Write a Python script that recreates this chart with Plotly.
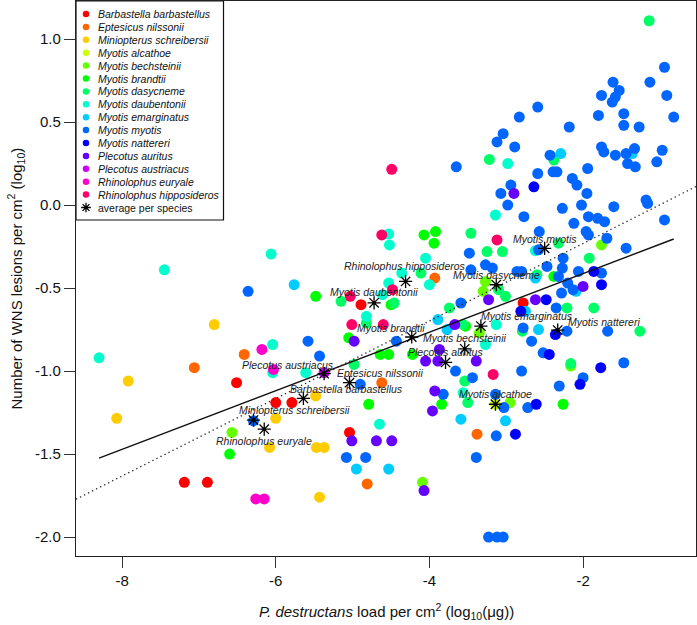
import plotly.graph_objects as go

# ---------------- data ----------------
SPECIES = [
    "Barbastella barbastellus", "Eptesicus nilssonii", "Miniopterus schreibersii",
    "Myotis alcathoe", "Myotis bechsteinii", "Myotis brandtii", "Myotis dasycneme",
    "Myotis daubentonii", "Myotis emarginatus", "Myotis myotis", "Myotis nattereri",
    "Plecotus auritus", "Plecotus austriacus", "Rhinolophus euryale",
    "Rhinolophus hipposideros",
]
COLORS = ["#FF0000", "#FF6600", "#FFCC00", "#CCFF00", "#66FF00", "#00FF00", "#00FF66",
          "#00FFCC", "#00CCFF", "#0066FF", "#0000FF", "#6600FF", "#CC00FF", "#FF00CC",
          "#FF0066"]

BARB_X = [-4.89, -6.51, -6.00, -5.79, -5.04, -7.19, -6.89, -2.78]
BARB_Y = [-0.60, -1.07, -1.19, -1.19, -1.37, -1.67, -1.67, -0.59]

EPT_X = [-3.93, -6.41, -7.06, -4.62, -4.81, -3.38]
EPT_Y = [-0.44, -0.90, -0.98, -1.07, -1.68, -1.38]

MIN_X = [-6.80, -5.48, -5.47, -5.37, -5.43, -7.92, -6.00, -8.07, -6.08]
MIN_Y = [-0.72, -1.15, -1.46, -1.46, -1.76, -1.06, -1.285, -1.285, -1.46]

ALC_X = [-3.14]
ALC_Y = [-1.20]

BECH_X = [-1.76, -3.27, -3.30, -3.35, -2.95, -6.57, -4.09, -2.16]
BECH_Y = [-0.24, -0.46, -0.52, -0.77, -1.19, -1.37, -1.67, -0.97]

BRA_X = [-4.07, -3.92, -3.94, -2.38, -5.48, -4.50, -3.53, -5.05, -4.64, -4.53, -4.22,
         -3.84, -4.79, -2.26, -6.60]
BRA_Y = [-0.18, -0.16, -0.23, -0.43, -0.55, -0.60, -0.73, -0.80, -0.90, -0.90, -0.90,
         -1.20, -1.20, -1.20, -1.50]

DAS_X = [-1.14, -2.38, -3.22, -3.46, -2.32, -3.25, -3.05, -1.92, -4.11, -3.10, -3.01,
         -2.60, -2.79, -3.54, -3.74, -3.56, -4.46, -5.15, -4.82, -4.98, -3.50, -2.21,
         -1.86, -1.26, -2.16]
DAS_Y = [1.11, 0.27, 0.275, -0.17, -0.23, -0.28, -0.28, -0.32, -0.41, -0.51, -0.55,
         -0.42, -0.76, -1.06, -0.62, -0.72, -0.59, -0.58, -0.71, -0.96, -1.19, -0.62,
         -0.62, -0.76, -0.955]

DAU_X = [-2.98, -3.14, -2.62, -4.05, -4.36, -4.53, -4.52, -6.06, -4.00, -4.53, -4.61,
         -3.13, -3.27, -4.82, -6.04, -5.61, -3.56, -4.65, -7.45, -8.30, -6.04]
DAU_Y = [0.25, -0.06, -0.275, -0.32, -0.41, -0.175, -0.24, -0.295, -0.48, -0.47, -0.54,
         -0.72, -0.84, -0.67, -0.84, -1.01, -1.13, -1.32, -0.39, -0.92, -1.01]

EMA_X = [-1.36, -2.29, -2.62, -2.09, -2.75, -2.58, -3.89, -3.77, -5.76, -3.59, -3.01,
         -4.95, -4.53]
EMA_Y = [0.31, 0.31, -0.44, -0.52, -0.64, -0.75, -0.69, -0.75, -0.48, -1.29, -1.30,
         -1.59, -1.59]

MYO_X = [-0.94, -1.61, -1.13, -1.53, -1.58, -1.76, -1.62, -0.91, -0.82, -2.59, -2.83,
         -1.80, -1.47, -1.47, -1.27, -2.18, -3.04, -3.12, -2.89, -1.76, -1.73, -1.58,
         -1.44, -1.33, -0.97, -1.04, -1.42, -1.32, -2.43, -3.65, -1.94, -2.39, -2.34,
         -2.59, -2.14, -2.08, -2.94, -3.07, -1.95, -2.98, -2.02, -2.27, -1.60, -1.18,
         -1.16, -2.77, -1.93, -1.81, -1.72, -2.12, -0.94, -1.96, -1.93, -1.69, -2.57,
         -1.44, -3.48, -2.58, -2.26, -3.27, -3.18, -2.47, -2.27, -3.46, -2.86, -2.80,
         -2.06, -1.76, -2.32,
         -2.20, -2.13, -2.28, -2.35, -2.21, -1.68, -1.47, -2.00,
         -2.78, -2.67, -2.52, -2.80, -3.44, -3.59, -3.66, -4.43, -5.58, -6.36, -5.43,
         -4.90, -3.82,
         -3.13, -3.39, -3.03, -2.72, -2.31, -5.08, -4.83, -3.23, -3.12, -3.04, -3.14, -6.29]
MYO_Y = [0.83, 0.74, 0.74, 0.69, 0.65, 0.66, 0.62, 0.66, 0.53, 0.59, 0.53,
         0.54, 0.55, 0.48, 0.47, 0.47, 0.43, 0.38, 0.35, 0.35, 0.32, 0.30,
         0.31, 0.34, 0.33, 0.26, 0.25, 0.23, 0.30, 0.23, 0.22, 0.20, 0.20,
         0.19, 0.16, 0.12, 0.12, 0.07, 0.07, 0.00, 0.00, -0.02, -0.01, 0.03,
         0.01, -0.07, -0.07, -0.08, -0.10, -0.11, -0.09, -0.16, -0.18, -0.20, -0.16,
         -0.26, -0.29, -0.27, -0.32, -0.36, -0.38, -0.37, -0.38, -0.39, -0.40, -0.40,
         -0.40, -0.41, -0.43,
         -0.47, -0.51, -0.53, -0.62, -0.76, -0.76, -0.95, -1.04,
         -0.74, -0.82, -0.89, -1.00, -1.04, -0.59, -1.00, -0.82, -0.82, -0.52, -0.91,
         -1.08, -1.14,
         -1.39, -1.52, -1.22, -1.22, -1.09, -1.52, -1.52, -2.00, -2.00, -2.00, -1.14, -1.30]

NAT_X = [-2.64, -1.86, -1.76, -2.48, -2.81, -2.36, -2.44, -1.77, -2.04, -2.61, -2.88]
NAT_Y = [0.11, -0.40, -0.48, -0.57, -0.64, -0.78, -0.90, -0.98, -1.08, -1.20, -1.38]

AUR_X = [-2.90, -3.23, -2.62, -2.00, -3.39, -3.67, -4.98, -4.05, -3.89, -3.87, -3.93,
         -3.96, -5.01, -4.69, -4.49, -4.07]
AUR_Y = [0.07, -0.57, -0.57, -0.49, -0.94, -0.72, -0.82, -0.94, -0.94, -0.87, -1.12,
         -1.24, -1.42, -1.42, -1.42, -1.72]

AUS_X = [-5.37]
AUS_Y = [-1.01]

EUR_X = [-6.18, -6.03, -6.26, -6.15]
EUR_Y = [-0.87, -0.99, -1.77, -1.77]

HIP_X = [-4.62, -3.12, -4.48, -5.03, -5.01, -4.60, -3.17, -4.49]
HIP_Y = [-0.18, -0.21, -0.51, -0.55, -0.72, -0.72, -1.02, 0.215]

# species averages (same order as SPECIES)
AVG_X = [-5.64, -5.04, -6.29, -3.14, -3.54, -4.23, -3.13, -4.72, -3.33, -2.50, -2.33,
         -3.79, -5.37, -6.15, -4.31]
AVG_Y = [-1.165, -1.07, -1.295, -1.20, -0.866, -0.795, -0.48, -0.589, -0.729, -0.261,
         -0.753, -0.948, -1.016, -1.35, -0.46]

# regression lines: (intercept, slope)
FIT_SOLID = (-0.0598, 0.1764)
FIT_SOLID_XSPAN = (-8.30, -0.82)
FIT_DOTTED = (0.235, 0.2334)

X_TICKS = [-8, -6, -4, -2]
Y_TICKS = [-2.0, -1.5, -1.0, -0.5, 0.0, 0.5, 1.0]

# ---------------- layout / style ----------------
X_RANGE = [-8.60, -0.53]
Y_RANGE = [-2.114, 1.229]
FONT = "Liberation Sans, Arial, Helvetica, sans-serif"

# label offsets in pixels (dx, dy) relative to each average star
LABEL_SHIFT = [(43, 9), (30, 10), (41, 10), (0, 10), (0, 11), (-21, 9), (0, 10),
               (0, 11), (46, 10), (0, 9), (46, 8), (0, 10), (-36, 9), (0, -12), (-1, 15)]

X_LISTS = [BARB_X, EPT_X, MIN_X, ALC_X, BECH_X, BRA_X, DAS_X, DAU_X, EMA_X, MYO_X,
           NAT_X, AUR_X, AUS_X, EUR_X, HIP_X]
Y_LISTS = [BARB_Y, EPT_Y, MIN_Y, ALC_Y, BECH_Y, BRA_Y, DAS_Y, DAU_Y, EMA_Y, MYO_Y,
           NAT_Y, AUR_Y, AUS_Y, EUR_Y, HIP_Y]

fig = go.Figure()

for name, col, xv, yv in zip(SPECIES, COLORS, X_LISTS, Y_LISTS):
    fig.add_trace(go.Scatter(
        x=xv, y=yv, mode="markers", name=name, showlegend=False,
        marker=dict(color=col, size=11, line=dict(width=0)),
    ))

# fitted lines
sx = list(FIT_SOLID_XSPAN)
fig.add_trace(go.Scatter(
    x=sx, y=[FIT_SOLID[0] + FIT_SOLID[1] * v for v in sx], mode="lines",
    line=dict(color="#111111", width=1.4), showlegend=False, hoverinfo="skip"))
dx_ = list(X_RANGE)
fig.add_trace(go.Scatter(
    x=dx_, y=[FIT_DOTTED[0] + FIT_DOTTED[1] * v for v in dx_], mode="lines",
    line=dict(color="#222222", width=1.3, dash="1.3px,3.2px"), showlegend=False,
    hoverinfo="skip"))

# averages
fig.add_trace(go.Scatter(
    x=AVG_X, y=AVG_Y, mode="markers", showlegend=False,
    marker=dict(symbol="asterisk-open", size=11, color="black",
                line=dict(color="black", width=1.3))))
fig.add_trace(go.Scatter(
    x=AVG_X, y=AVG_Y, mode="markers", showlegend=False,
    marker=dict(symbol="circle", size=3.5, color="black")))

annotations = []
for name, ax, ay, (sx_, sy_) in zip(SPECIES, AVG_X, AVG_Y, LABEL_SHIFT):
    annotations.append(dict(
        x=ax, y=ay, xref="x", yref="y", text=f"<i>{name}</i>", showarrow=False,
        xshift=sx_, yshift=sy_, xanchor="center", yanchor="middle",
        font=dict(family=FONT, size=10.5, color="#222222")))

# ---- custom legend (paper coords) ----
PLOT_L, PLOT_T, PLOT_W, PLOT_H = 76, 1, 620, 555
def px_to_paper(px, py):
    return (px - PLOT_L) / PLOT_W, (PLOT_T + PLOT_H - py) / PLOT_H

legend_names = SPECIES + ["average per species"]
row_y = [px_to_paper(0, 14 + 12.9 * i)[1] for i in range(len(legend_names))]
dot_x = px_to_paper(86, 0)[0]
txt_x = px_to_paper(96, 0)[0]

fig.add_trace(go.Scatter(
    x=[dot_x] * len(SPECIES), y=row_y[:len(SPECIES)], xaxis="x2", yaxis="y2",
    mode="markers", showlegend=False, hoverinfo="skip", cliponaxis=False,
    marker=dict(color=COLORS, size=6.5, line=dict(width=0))))
fig.add_trace(go.Scatter(
    x=[dot_x], y=[row_y[-1]], xaxis="x2", yaxis="y2", mode="markers",
    showlegend=False, hoverinfo="skip", cliponaxis=False,
    marker=dict(symbol="asterisk-open", size=8, color="black",
                line=dict(color="black", width=1.3))))

for i, nm in enumerate(legend_names):
    txt = nm if i == len(legend_names) - 1 else f"<i>{nm}</i>"
    annotations.append(dict(
        x=txt_x, y=row_y[i], xref="paper", yref="paper", text=txt, showarrow=False,
        xanchor="left", yanchor="middle",
        font=dict(family=FONT, size=10.5, color="#111111")))

bx1, by0 = px_to_paper(223.5, 220)
shapes = [dict(type="rect", xref="paper", yref="paper", x0=0, x1=bx1, y0=by0, y1=1,
               line=dict(color="#111111", width=1.2), fillcolor="white", layer="below")]

# axis titles
tx, ty = px_to_paper(386, 611)
annotations.append(dict(
    x=0.5, y=ty, xref="paper", yref="paper", showarrow=False,
    text="<i>P. destructans</i> load per cm<sup>2</sup> (log<sub>10</sub>(μg))",
    xanchor="center", yanchor="middle", font=dict(family=FONT, size=15, color="#111")))
yx, _ = px_to_paper(16, 0)
annotations.append(dict(
    x=yx, y=0.5, xref="paper", yref="paper", showarrow=False, textangle=-90,
    text="Number of WNS lesions per cm<sup>2</sup> (log<sub>10</sub>)",
    xanchor="center", yanchor="middle", font=dict(family=FONT, size=15, color="#111")))

axis_common = dict(showgrid=False, zeroline=False, showline=True, mirror=True,
                   linecolor="#222222", linewidth=1.3, ticks="outside", ticklen=11,
                   tickwidth=1.3, tickcolor="#333333",
                   tickfont=dict(family=FONT, size=15, color="#111111"))

fig.update_layout(
    width=697, height=625,
    margin=dict(l=76, r=1, t=1, b=69),
    paper_bgcolor="white", plot_bgcolor="white",
    xaxis=dict(range=X_RANGE, tickvals=X_TICKS, ticktext=[str(v) for v in X_TICKS],
               **axis_common),
    yaxis=dict(range=Y_RANGE, tickvals=Y_TICKS, ticktext=[f"{v:.1f}" for v in Y_TICKS],
               **axis_common),
    xaxis2=dict(overlaying="x", range=[0, 1], visible=False, fixedrange=True),
    yaxis2=dict(overlaying="y", range=[0, 1], visible=False, fixedrange=True),
    annotations=annotations, shapes=shapes, showlegend=False,
    font=dict(family=FONT),
)

fig.write_html(
    "out.html",
    config={"displayModeBar": False},
    post_script="document.body.style.margin='0px';document.body.style.padding='0px';",
)
